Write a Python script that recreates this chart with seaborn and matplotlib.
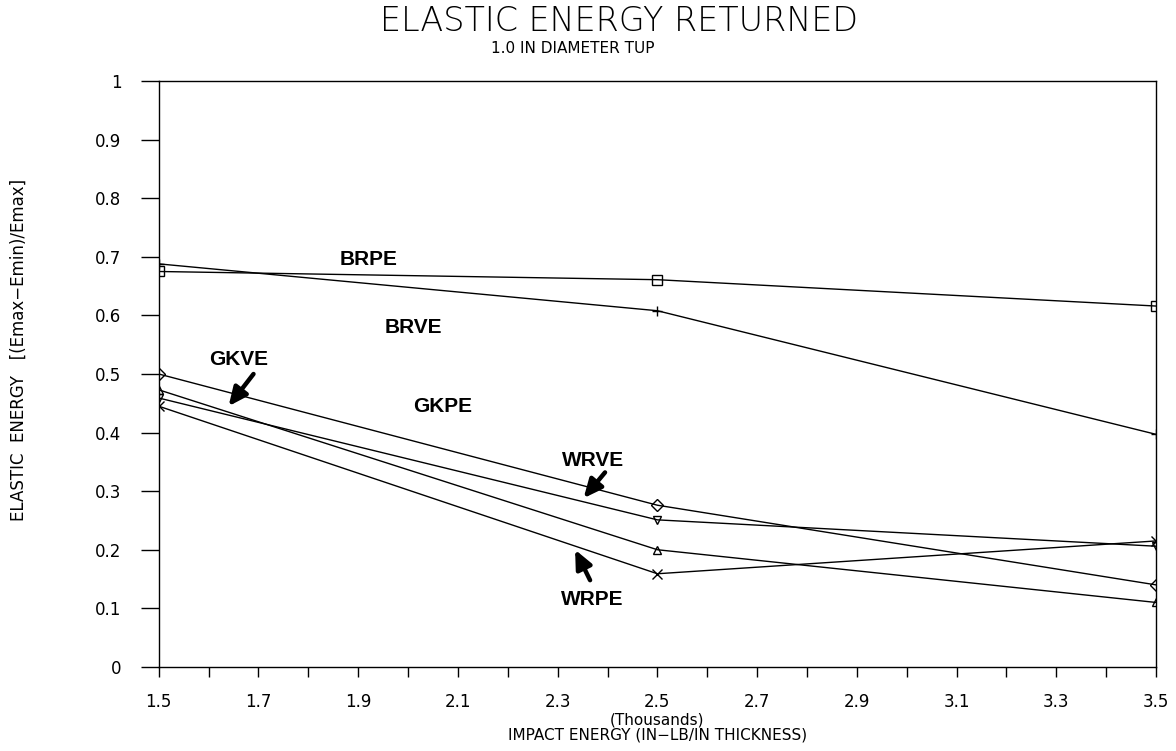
import numpy as np
import pandas as pd
import seaborn as sns
import matplotlib.pyplot as plt
from matplotlib.ticker import MultipleLocator, FixedLocator

# impact energy (thousands of in-lb / in thickness)
impact = [1.5, 2.5, 3.5]

brpe = [0.675, 0.661, 0.616]
brve = [0.688, 0.608, 0.397]
gkpe = [0.500, 0.276, 0.140]
gkve = [0.473, 0.200, 0.110]
wrve = [0.459, 0.251, 0.206]
wrpe = [0.445, 0.159, 0.215]

series_names = ['BRPE', 'BRVE', 'GKPE', 'GKVE', 'WRVE', 'WRPE']
series_vals = [brpe, brve, gkpe, gkve, wrve, wrpe]
markers = ['s', '+', 'D', '^', 'v', 'x']

x_ticks = [1.5, 1.7, 1.9, 2.1, 2.3, 2.5, 2.7, 2.9, 3.1, 3.3, 3.5]
y_ticks = [0, 0.1, 0.2, 0.3, 0.4, 0.5, 0.6, 0.7, 0.8, 0.9, 1]
y_tick_labels = ['0', '0.1', '0.2', '0.3', '0.4', '0.5', '0.6', '0.7', '0.8', '0.9', '1']

sns.set_style('ticks')
plt.rcParams['font.family'] = ['DejaVu Sans']
plt.rcParams['text.color'] = 'black'

fig = plt.figure(figsize=(11.76, 7.51), dpi=100)
ax = fig.add_axes([0.135, 0.112, 0.848, 0.780])

for name, vals, m in zip(series_names, series_vals, markers):
    df = pd.DataFrame({'x': impact, 'y': vals})
    sns.lineplot(data=df, x='x', y='y', ax=ax, color='black', linewidth=1.0,
                 marker=m, markersize=7 if m in ('s', '+', 'x') else 6,
                 markerfacecolor='none', markeredgecolor='black', markeredgewidth=1.0)

ax.set_xlim(1.5, 3.5)
ax.set_ylim(0, 1)
ax.xaxis.set_major_locator(FixedLocator(x_ticks))
ax.xaxis.set_minor_locator(MultipleLocator(0.1))
ax.set_xticklabels([f'{v:.1f}' for v in x_ticks])
ax.yaxis.set_major_locator(FixedLocator(y_ticks))
ax.set_yticklabels(y_tick_labels)
ax.tick_params(axis='both', which='both', direction='out', color='black',
               labelsize=12, width=1.0, labelcolor='black')
ax.tick_params(axis='x', which='both', length=7, pad=12)
ax.tick_params(axis='y', length=13, pad=14)
for s in ax.spines.values():
    s.set_visible(True)
    s.set_linewidth(1.0)
    s.set_color('black')

ax.set_xlabel('(Thousands)\nIMPACT ENERGY (IN\u2212LB/IN THICKNESS)', fontsize=11,
              labelpad=1, linespacing=0.95, color='black')
ax.set_ylabel('')

fig.text(0.016, 0.534, 'ELASTIC  ENERGY   [(Emax\u2212Emin)/Emax]', rotation=90,
         ha='center', va='center', fontsize=12, color='black')
fig.text(0.526, 0.972, 'ELASTIC ENERGY RETURNED', ha='center', va='center',
         fontsize=24, fontweight='light', color='black')
fig.text(0.487, 0.936, '1.0 IN DIAMETER TUP', ha='center', va='center', fontsize=11,
         color='black')

lab = dict(fontsize=15, fontweight='bold', family='Liberation Sans', ha='center',
           va='center', color='black')
ax.text(1.92, 0.695, 'BRPE', **lab)
ax.text(2.01, 0.58, 'BRVE', **lab)
ax.text(1.66, 0.525, 'GKVE', **lab)
ax.text(2.07, 0.445, 'GKPE', **lab)
ax.text(2.37, 0.352, 'WRVE', **lab)
ax.text(2.37, 0.115, 'WRPE', **lab)

arrow = dict(arrowstyle='-|>,head_length=1.1,head_width=0.5', color='black', lw=3.2,
             shrinkA=0, shrinkB=0)
ax.annotate('', xy=(1.64, 0.445), xytext=(1.69, 0.5), arrowprops=arrow)
ax.annotate('', xy=(2.352, 0.288), xytext=(2.395, 0.332), arrowprops=arrow)
ax.annotate('', xy=(2.335, 0.2), xytext=(2.365, 0.148), arrowprops=arrow)

fig.savefig('out.png', dpi=100, facecolor='white')
